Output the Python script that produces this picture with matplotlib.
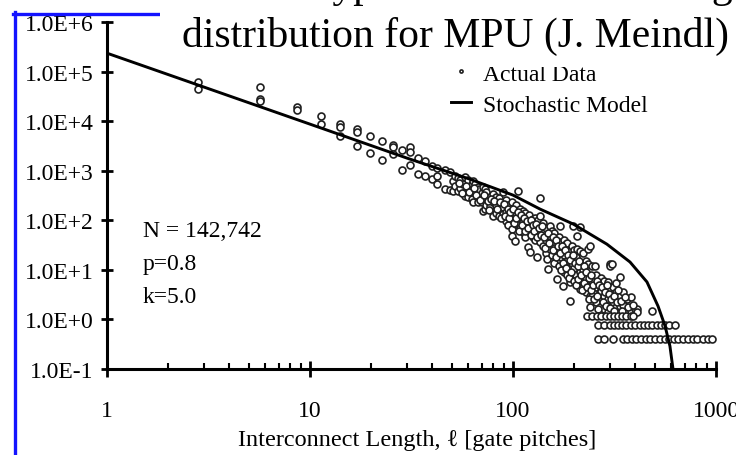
import matplotlib
matplotlib.use("Agg")
import matplotlib.pyplot as plt
from matplotlib.lines import Line2D
from matplotlib.patches import Rectangle
from matplotlib.ticker import LogLocator, NullFormatter

plt.rcParams['font.family'] = ['Liberation Serif', 'DejaVu Serif']

# STOCHASTIC MODEL
model_len = [1, 10, 30, 61, 100, 136, 198, 290, 377, 457, 518, 561, 593, 614]
model_cnt = [2.35e5, 8.7e3, 1.8e3, 680, 322, 168, 84, 33, 14.4, 5.7, 1.86, 0.74, 0.29, 0.1]

# ACTUAL DATA - sparse part (short wires)
sparse_len = [2.8, 2.8, 5.7, 5.7, 5.7, 8.6, 8.6, 11.3, 11.3, 14.1, 14.1, 14.1,
              17, 17, 17, 19.8, 19.8, 22.6, 22.6, 25.6, 25.6, 25.6, 28.4, 28.4,
              31.1, 31.1, 31.1, 34, 34, 36.9, 36.9, 39.9, 39.9, 42.2, 42.2, 42.2,
              46.2, 46.2, 48.9, 48.9]
sparse_cnt = [61000, 44000, 48000, 28000, 25000, 19000, 16700, 12600, 8700, 8700, 7600, 5000,
              6900, 6000, 3100, 5000, 2300, 4000, 1640, 3300, 3000, 2200, 2600, 1030,
              3000, 2400, 1300, 1800, 850, 1560, 780, 1240, 680, 1130, 780, 540,
              1030, 425, 940, 406]

# ACTUAL DATA - dense cloud, edges and outliers
cloud_len = [50.6, 50.6, 52, 52, 53.6, 53.6, 55, 55, 57, 58, 58, 58, 60, 60, 60,
             62.8, 62.8, 63.5, 63.5, 65, 65, 67.2, 67.2, 68, 68, 70, 70,
             71.1, 71.1, 71.1, 72.8, 72.8, 74, 74, 74, 77, 77, 79.7, 79.7, 79.7,
             82, 82, 82, 85, 85, 85, 89.3, 89.3, 89.3, 92, 92, 92, 95, 95, 95,
             98.9, 98.9, 98.9, 99, 102, 103, 103, 103, 106, 108, 108, 108,
             112, 112, 112, 115, 115, 115, 118, 120, 120, 120, 121, 126, 126,
             128, 128, 128, 131, 133, 133, 136, 136, 136, 136, 140, 140, 140,
             145, 145, 145, 147, 149, 152, 152, 152, 155, 155, 155, 160, 160, 160,
             165, 165, 168, 168, 168, 171, 171, 171, 176, 178, 178, 178, 183,
             185, 185, 185, 191, 191, 191, 195, 195, 195, 198, 200, 200, 205, 205,
             207, 207, 214, 214, 214, 214, 220, 220, 220, 228, 228, 228, 234, 234,
             239, 239, 239, 239, 245, 245, 245, 254, 255, 255, 255, 268, 268,
             270, 270, 280, 280, 280, 294, 294, 294, 301, 301, 307, 310, 310,
             320, 320, 320, 337, 337, 337, 350, 350, 364, 364, 380, 380, 399, 407, 484]
cloud_cnt = [620, 390, 800, 500, 710, 390, 650, 450, 550, 740, 310, 370, 650, 420, 300,
             540, 270, 620, 230, 550, 380, 470, 230, 420, 300, 350, 230,
             470, 270, 153, 425, 170, 380, 280, 200, 300, 190, 340, 230, 120,
             300, 200, 140, 280, 170, 120, 370, 185, 133, 260, 150, 95, 200, 130, 80,
             233, 116, 66, 48, 38, 200, 140, 85, 390, 170, 110, 70,
             153, 96, 58, 140, 80, 45, 29, 130, 90, 60, 23, 106, 46,
             110, 70, 40, 18, 100, 55, 280, 121, 73, 36, 90, 60, 30,
             70, 40, 22, 16.5, 10.4, 76, 48, 26, 60, 35, 20, 55, 28, 14,
             19, 6.5, 45, 25, 12, 76, 36, 18, 4.7, 40, 20, 9, 33,
             35, 15, 8, 2.35, 5.7, 11.9, 30, 14, 7, 76, 25, 11, 18, 8,
             48, 26, 73, 24, 9.0, 4.1, 22, 10, 5, 15, 7, 3.5, 26, 13,
             30, 5.9, 3.0, 1.78, 12, 6, 3, 11.9, 8, 4.5, 2.2, 3.6, 1.78,
             7, 3.8, 6, 3, 1.6, 5.7, 2.6, 1.41, 13.1, 11.9, 13, 4.5, 2.2,
             5.5, 3.5, 1.8, 7.2, 3.0, 1.86, 3.5, 2, 2.6, 1.41, 2.8, 1.5, 1.62, 1.6, 1.48]

# ACTUAL DATA - inner core of the cloud
core_len = [54, 56, 59, 61, 64, 66, 69, 72, 75, 76, 78, 81, 83, 86, 87, 90, 91, 94, 96, 97, 100, 101,
            104, 106, 107, 110, 111, 113, 114, 117, 119, 122, 123, 125, 127, 130, 132, 134, 138, 139,
            142, 143, 148, 150,
            157, 158, 162, 163, 166, 170, 172, 174, 177, 180, 182, 187, 188, 190, 193, 197, 199,
            202, 204, 208, 210, 212, 217, 218, 223, 225, 230, 232, 236, 237, 242, 243, 248, 250,
            258, 260, 263, 265, 275, 276, 285, 286, 290, 298, 300, 305, 315, 316, 325, 330, 340,
            345, 355, 370, 390, 410]
core_cnt = [560, 350, 500, 380, 450, 320, 260, 330, 240, 160, 270, 250, 170, 230, 110, 210, 120, 170, 110, 150, 170, 90,
            110, 150, 60, 130, 80, 110, 60, 95, 70, 100, 50, 80, 60, 85, 45, 70, 50, 75,
            45, 28, 55, 35,
            45, 25, 40, 18, 30, 22, 10, 30, 14, 25, 11, 20, 7, 16, 9, 20, 6,
            14, 5, 12, 6.5, 15, 8, 4, 12, 5.5, 9, 4.5, 7, 2.6, 8, 4, 5, 2.6,
            6, 3, 1.6, 5, 4.5, 2.2, 3.5, 1.9, 5, 3.2, 1.7, 2.6, 3, 1.5, 2.2, 4, 2.4,
            1.5, 2.9, 1.8, 2, 1.4]

# ACTUAL DATA - the three flat rows at the bottom
floor_levels = [1.15, 0.77, 0.40]
floor_rows = [
    [232, 245, 258, 272, 287, 300, 315, 330, 345, 362, 380, 390],
    [262, 282, 301, 315, 330, 345, 360, 380, 400, 420, 440, 460, 485, 510,
     535, 560, 590, 625],
    [262, 282, 310, 349, 365, 385, 405, 425, 450, 475, 500, 530, 560, 590,
     620, 650, 690, 730, 770, 810, 860, 910, 960],
]

y_ticks = [0.1, 1, 10, 100, 1e3, 1e4, 1e5, 1e6]
y_tick_labels = ["1.0E-1", "1.0E+0", "1.0E+1", "1.0E+2", "1.0E+3", "1.0E+4", "1.0E+5", "1.0E+6"]
x_ticks = [1, 10, 100, 1000]
x_tick_labels = ["1", "10", "100", "1000"]

data_len = sparse_len + cloud_len + core_len
data_cnt = sparse_cnt + cloud_cnt + core_cnt
for lvl, row in zip(floor_levels, floor_rows):
    data_len += row
    data_cnt += [lvl] * len(row)

W, H = 736, 456
FS = 17
fig = plt.figure(figsize=(W / 100, H / 100), dpi=100)
ax = fig.add_axes([107 / W, 1 - 370 / H, (716 - 107) / W, (370 - 23) / H])
ax.set_xscale("log")
ax.set_yscale("log")

h_data, = ax.plot(data_len, data_cnt, ls="none", marker="o", ms=5.0, mfc="white",
                  mec="#202020", mew=1.2, zorder=2)
h_model, = ax.plot(model_len, model_cnt, color="black", lw=2.1, zorder=3)

ax.set_xlim(1, 1000)
ax.set_ylim(0.1, 1e6)

for s in ["top", "right"]:
    ax.spines[s].set_visible(False)
for s in ["left", "bottom"]:
    ax.spines[s].set_linewidth(2.2)

ax.set_yticks(y_ticks)
ax.set_yticklabels(y_tick_labels)
ax.yaxis.set_minor_locator(LogLocator(base=10, subs=[]))
ax.set_xticks(x_ticks)
ax.set_xticklabels(x_tick_labels)
ax.xaxis.set_minor_locator(LogLocator(base=10, subs=range(2, 10)))
ax.xaxis.set_minor_formatter(NullFormatter())

ax.tick_params(axis="y", which="major", direction="inout", length=9, width=2,
               pad=5, labelsize=FS)
ax.tick_params(axis="x", which="major", direction="inout", length=12, width=2,
               pad=16, labelsize=FS)
ax.tick_params(axis="x", which="minor", direction="in", length=4.5, width=1.5)

ax.set_xlabel("Interconnect Length, \u2113 [gate pitches]", fontsize=FS + 0.5)
ax.xaxis.set_label_coords(0.51, -0.172)

ax.text(0.059, 0.398, "N = 142,742", transform=ax.transAxes, fontsize=FS, va="center")
ax.text(0.059, 0.303, "p=0.8", transform=ax.transAxes, fontsize=FS, va="center")
ax.text(0.059, 0.210, "k=5.0", transform=ax.transAxes, fontsize=FS, va="center")

leg = ax.legend([h_data, h_model], ["Actual Data", "Stochastic Model"],
                loc="upper left", bbox_to_anchor=(451 / W, 1 - 64 / H),
                bbox_transform=fig.transFigure, frameon=False, fontsize=FS,
                borderpad=0, borderaxespad=0, handlelength=0.85,
                handletextpad=0.5, labelspacing=0.4, markerscale=0.45)

# slide title (covers the upper part of the legend)
fig.add_artist(Rectangle((160 / W, 1 - 68 / H), (W - 160) / W, 68 / H,
                         transform=fig.transFigure, facecolor="white",
                         edgecolor="none", zorder=5))
fig.text(310 / W, 1 + 3 / H, "Typical interconnect length", fontsize=30,
         va="baseline", zorder=6)
fig.text(182 / W, 1 - 47 / H, "distribution for MPU (J. Meindl)", fontsize=30,
         va="baseline", zorder=6)

# blue slide frame
fig.add_artist(Line2D([14.5 / W, 14.5 / W], [1 - 13 / H, 0], color="#1414ff",
                      lw=2.4, transform=fig.transFigure, zorder=4))
fig.add_artist(Line2D([13 / W, 160 / W], [1 - 14.5 / H, 1 - 14.5 / H], color="#1414ff",
                      lw=2.4, transform=fig.transFigure, zorder=4))

fig.savefig("out.png", dpi=100)
